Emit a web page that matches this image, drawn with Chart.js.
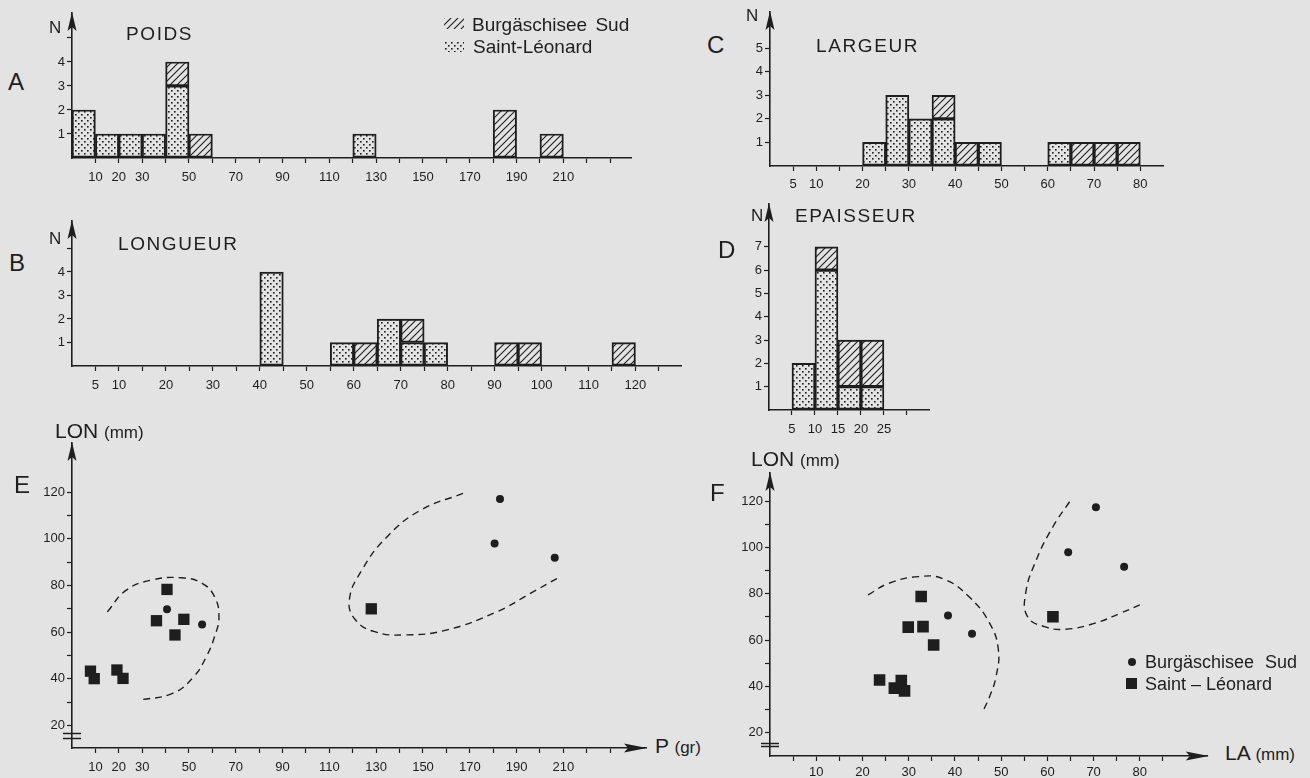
<!DOCTYPE html>
<html><head><meta charset="utf-8">
<title>Poids, longueur, largeur, épaisseur – Burgäschisee Sud / Saint-Léonard</title>
<script src="https://cdn.jsdelivr.net/npm/chart.js@4.4.1/dist/chart.umd.min.js"></script>
<style>
html,body{margin:0;padding:0}
body{width:1310px;height:778px;background:#e3e3e3;position:relative;overflow:hidden;font-family:"Liberation Sans",Arial,sans-serif;color:#1e1e1e}
canvas{position:absolute}
.t{position:absolute;white-space:nowrap;line-height:1;transform:translateY(-50%)}
.letter{font-size:24px}
.n{font-size:17px}
.title{font-size:19px;letter-spacing:1.6px}
.leg{font-size:19px;word-spacing:3px}
.ax{font-size:21px}
.ax span{font-size:17px}
.sw{position:absolute;width:20px;height:11px}
.dot{position:absolute;width:8px;height:8px;border-radius:50%;background:#1e1e1e}
.sq{position:absolute;width:11px;height:11px;background:#1e1e1e}
</style></head><body>
<canvas id="cA"></canvas><canvas id="cB"></canvas><canvas id="cC"></canvas>
<canvas id="cD"></canvas><canvas id="cE"></canvas><canvas id="cF"></canvas>

<div class="t letter" style="left:8px;top:82px">A</div>
<div class="t letter" style="left:9px;top:263px">B</div>
<div class="t letter" style="left:707px;top:45px">C</div>
<div class="t letter" style="left:718px;top:250px">D</div>
<div class="t letter" style="left:14px;top:485px">E</div>
<div class="t letter" style="left:710px;top:493px">F</div>

<div class="t n" style="left:49px;top:27px">N</div>
<div class="t n" style="left:49px;top:238px">N</div>
<div class="t n" style="left:746px;top:15px">N</div>
<div class="t n" style="left:751px;top:215px">N</div>

<div class="t title" style="left:126px;top:33px">POIDS</div>
<div class="t title" style="left:118px;top:243px">LONGUEUR</div>
<div class="t title" style="left:816px;top:45px">LARGEUR</div>
<div class="t title" style="left:795px;top:215px">EPAISSEUR</div>

<div id="swH" class="sw" style="left:444px;top:18px"></div>
<div class="t leg" style="left:472px;top:24px">Burgäschisee Sud</div>
<div id="swS" class="sw" style="left:444px;top:41px"></div>
<div class="t leg" style="left:473px;top:46px">Saint-Léonard</div>

<div class="t ax" style="left:55px;top:430px">LON <span>(mm)</span></div>
<div class="t ax" style="left:751px;top:458px">LON <span>(mm)</span></div>
<div class="t ax" style="left:655px;top:745px">P <span>(gr)</span></div>
<div class="t ax" style="left:1225px;top:752px">LA <span>(mm)</span></div>

<div class="dot" style="left:1128px;top:658px"></div>
<div class="t leg" style="left:1145px;top:662px;font-size:18px;word-spacing:6px">Burgäschisee Sud</div>
<div class="sq" style="left:1126px;top:678px"></div>
<div class="t leg" style="left:1145px;top:684px;font-size:18px;word-spacing:0">Saint – Léonard</div>

<script>
// ---------------- DATA ----------------
// A : POIDS (gr), classes de 10
const poidsBinStart = [0, 10, 20, 30, 40, 50, 120, 180, 200];
const poidsSaintLeonard = [2, 1, 1, 1, 3, 0, 1, 0, 0];
const poidsBurgaschisee = [0, 0, 0, 0, 1, 1, 0, 2, 1];
const poidsTickLabels = [10, 20, 30, 50, 70, 90, 110, 130, 150, 170, 190, 210];

// B : LONGUEUR (mm), classes de 5
const longueurBinStart = [40, 55, 60, 65, 70, 75, 90, 95, 115];
const longueurSaintLeonard = [4, 1, 0, 2, 1, 1, 0, 0, 0];
const longueurBurgaschisee = [0, 0, 1, 0, 1, 0, 1, 1, 1];
const longueurTickLabels = [5, 10, 20, 30, 40, 50, 60, 70, 80, 90, 100, 110, 120];

// C : LARGEUR (mm), classes de 5
const largeurBinStart = [20, 25, 30, 35, 40, 45, 60, 65, 70, 75];
const largeurSaintLeonard = [1, 3, 2, 2, 0, 1, 1, 0, 0, 0];
const largeurBurgaschisee = [0, 0, 0, 1, 1, 0, 0, 1, 1, 1];
const largeurTickLabels = [5, 10, 20, 30, 40, 50, 60, 70, 80];

// D : EPAISSEUR (mm), classes de 5
const epaisseurBinStart = [5, 10, 15, 20];
const epaisseurSaintLeonard = [2, 6, 1, 1];
const epaisseurBurgaschisee = [0, 1, 2, 2];
const epaisseurTickLabels = [5, 10, 15, 20, 25];

// E : LON (mm) en fonction de P (gr)
const ePoidsSaintLeonard = [7.9, 9.5, 19.2, 21.8, 40.6, 36.1, 47.8, 44.0, 127.9];
const eLonSaintLeonard   = [43.3, 40.1, 43.8, 40.2, 78.3, 64.9, 65.5, 58.8, 70.0];
const ePoidsBurgaschisee = [40.6, 55.6, 182.9, 180.6, 206.3];
const eLonBurgaschisee   = [69.8, 63.3, 117.0, 98.0, 91.9];
const eEnvelope1P = [15.1, 23.2, 34.0, 46.6, 55.6, 60.9, 62.8, 60.9, 57.4, 52.0, 43.0, 28.6];
const eEnvelope1L = [68.7, 78.0, 82.3, 83.3, 80.9, 75.2, 66.6, 58.0, 49.5, 40.9, 33.8, 30.9];
const eEnvelope2P = [167.1, 149.1, 134.7, 123.9, 118.5, 121.2, 129.3, 141.9, 159.9, 181.5, 195.9, 208.5];
const eEnvelope2L = [119.4, 112.3, 100.9, 86.6, 73.7, 65.2, 60.2, 58.8, 60.9, 68.7, 76.6, 83.7];
const ePoidsTickLabels = [10, 20, 30, 50, 70, 90, 110, 130, 150, 170, 190, 210];
const lonTickLabels = [20, 40, 60, 80, 100, 120];
const eAxisBreak = [16.8, 14.6];

// F : LON (mm) en fonction de LA (mm)
const fLaSaintLeonard  = [23.7, 26.9, 28.4, 29.1, 29.9, 33.1, 32.7, 35.4, 61.2];
const fLonSaintLeonard = [42.8, 39.3, 42.5, 38.1, 65.6, 65.8, 78.8, 57.9, 70.1];
const fLaBurgaschisee  = [38.5, 43.7, 70.5, 64.5, 76.6];
const fLonBurgaschisee = [70.6, 62.7, 117.3, 97.9, 91.7];
const fEnvelope1A = [21.2, 25.7, 32.1, 37.5, 43.0, 47.5, 49.4, 48.9, 47.5, 46.2];
const fEnvelope1L = [79.5, 84.5, 87.4, 86.4, 78.8, 67.3, 55.8, 44.3, 35.6, 29.9];
const fEnvelope2A = [64.8, 61.2, 57.6, 55.3, 55.7, 59.4, 63.9, 70.3, 75.8, 80.8];
const fEnvelope2L = [119.7, 108.9, 94.6, 80.2, 70.1, 65.8, 64.7, 67.3, 71.6, 75.9];
const fLaTickLabels = [10, 20, 30, 40, 50, 60, 70, 80];
const fAxisBreak = [15.8, 14.1];

// ---------------- STYLE ----------------
const INK = '#1e1e1e';
const FONT = '"Liberation Sans", Arial, sans-serif';
const tickFont = {family: FONT, size: 13};

function makeHatch() {
  const c = document.createElement('canvas'); c.width = 7; c.height = 7;
  const g = c.getContext('2d'); g.strokeStyle = INK; g.lineWidth = 1.1;
  g.beginPath();
  g.moveTo(-1, 8); g.lineTo(8, -1);
  g.moveTo(-1, 1); g.lineTo(1, -1);
  g.moveTo(6, 8); g.lineTo(8, 6);
  g.stroke();
  return c;
}
function makeStipple() {
  const c = document.createElement('canvas'); c.width = 6; c.height = 6;
  const g = c.getContext('2d'); g.fillStyle = INK;
  g.fillRect(1, 1, 1.6, 1.6); g.fillRect(4, 4, 1.6, 1.6);
  return c;
}
const hatchTile = makeHatch(), stippleTile = makeStipple();
const pctx = document.createElement('canvas').getContext('2d');
const HATCH = pctx.createPattern(hatchTile, 'repeat');
const STIPPLE = pctx.createPattern(stippleTile, 'repeat');
document.getElementById('swH').style.backgroundImage = 'url(' + hatchTile.toDataURL() + ')';
document.getElementById('swS').style.backgroundImage = 'url(' + stippleTile.toDataURL() + ')';

// arrows at the axis ends and the "=" break on the y axis
const axisDecor = {
  id: 'axisDecor',
  afterDraw(chart, _a, o) {
    const {ctx, chartArea: a} = chart;
    ctx.save(); ctx.fillStyle = INK; ctx.strokeStyle = INK;
    const al = 18, aw = 4.5;
    ctx.beginPath();
    ctx.moveTo(a.left, a.top - 1);
    ctx.lineTo(a.left - aw, a.top + al);
    ctx.lineTo(a.left, a.top + al - 4);
    ctx.lineTo(a.left + aw, a.top + al);
    ctx.closePath(); ctx.fill();
    if (o.xArrow) {
      const xl = 22, xw = 4.5;
      ctx.beginPath();
      ctx.moveTo(a.right + 1, a.bottom);
      ctx.lineTo(a.right - xl, a.bottom - xw);
      ctx.lineTo(a.right - xl + 4, a.bottom);
      ctx.lineTo(a.right - xl, a.bottom + xw);
      ctx.closePath(); ctx.fill();
    }
    if (o.breaks) {
      ctx.lineWidth = 1.5;
      o.breaks.forEach(v => {
        const y = Math.round(chart.scales.y.getPixelForValue(v)) + 0.5;
        ctx.beginPath(); ctx.moveTo(a.left - 9, y); ctx.lineTo(a.left + 9, y); ctx.stroke();
      });
    }
    ctx.restore();
  }
};

function placeCanvas(id, area, yW, xH, pad) {
  const cv = document.getElementById(id);
  const left = area.L - yW - pad.left, top = area.T - pad.top;
  cv.width = area.R + pad.right - left;
  cv.height = area.B + xH + pad.bottom - top;
  cv.style.left = left + 'px'; cv.style.top = top + 'px';
  return cv;
}

function binPoints(start, counts, w) {
  const pts = [];
  start.forEach((s, i) => { if (counts[i] > 0) pts.push({x: s + w / 2, y: counts[i]}); });
  return pts;
}
function zip(xs, ys) { return xs.map((x, i) => ({x, y: ys[i]})); }

function histChart(id, area, cfg) {
  const yW = 40, xH = 30, pad = {left: 0, top: 14, right: 8, bottom: 4};
  const cv = placeCanvas(id, area, yW, xH, pad);
  const barStyle = {borderColor: INK, borderWidth: 1.3, borderSkipped: false,
                    barPercentage: 1, categoryPercentage: 1};
  return new Chart(cv, {
    type: 'bar',
    data: {datasets: [
      Object.assign({label: 'Saint-Léonard', data: binPoints(cfg.start, cfg.sl, cfg.w),
                     backgroundColor: STIPPLE}, barStyle),
      Object.assign({label: 'Burgäschisee Sud', data: binPoints(cfg.start, cfg.bs, cfg.w),
                     backgroundColor: HATCH}, barStyle)
    ]},
    options: {
      responsive: false, animation: false, events: [],
      layout: {padding: pad},
      plugins: {legend: {display: false}, tooltip: {enabled: false}, axisDecor: {}},
      scales: {
        x: {type: 'linear', min: 0, max: cfg.xMax, offset: false, stacked: true,
            grid: {drawOnChartArea: false, offset: false, tickLength: 5, tickWidth: 1.2,
                   tickColor: c => (c.tick && c.tick.value > 0) ? INK : 'transparent'},
            border: {color: INK, width: 1.6},
            ticks: {stepSize: cfg.w, autoSkip: false, maxRotation: 0, includeBounds: false,
                    maxTicksLimit: 1000, padding: cfg.xPad || 7, color: INK, font: tickFont,
                    callback: v => cfg.xLabels.includes(v) ? String(v) : ''},
            afterFit: s => { s.height = xH; }},
        y: {type: 'linear', min: 0, max: cfg.yMax, stacked: true,
            grid: {drawOnChartArea: false, tickLength: 5, tickWidth: 1.2,
                   tickColor: c => (c.tick && c.tick.value >= 1 && c.tick.value <= cfg.yTickTop) ? INK : 'transparent'},
            border: {color: INK, width: 1.6},
            ticks: {stepSize: 1, includeBounds: false, padding: 2, color: INK, font: tickFont,
                    callback: v => (v >= 1 && v <= cfg.yLabelTop) ? String(v) : ''},
            afterFit: s => { s.width = yW; }}
      }
    },
    plugins: [axisDecor]
  });
}

function scatterChart(id, area, cfg) {
  const yW = 44, xH = 30, pad = {left: 0, top: 14, right: 8, bottom: 4};
  const cv = placeCanvas(id, area, yW, xH, pad);
  const env = {showLine: true, pointRadius: 0, borderColor: INK, borderWidth: 1.4,
               borderDash: [7, 5], tension: 0.45, fill: false, backgroundColor: 'transparent'};
  return new Chart(cv, {
    type: 'scatter',
    data: {datasets: [
      {label: 'Saint-Léonard', data: zip(cfg.slX, cfg.slY), pointStyle: 'rect',
       pointRadius: cfg.sq, backgroundColor: INK, borderColor: INK, borderWidth: 0},
      {label: 'Burgäschisee Sud', data: zip(cfg.bsX, cfg.bsY), pointStyle: 'circle',
       pointRadius: 4, backgroundColor: INK, borderColor: INK, borderWidth: 0},
      Object.assign({label: 'enveloppe 1', data: zip(cfg.e1X, cfg.e1Y)}, env),
      Object.assign({label: 'enveloppe 2', data: zip(cfg.e2X, cfg.e2Y)}, env)
    ]},
    options: {
      responsive: false, animation: false, events: [],
      layout: {padding: pad},
      plugins: {legend: {display: false}, tooltip: {enabled: false},
                axisDecor: {xArrow: true, breaks: cfg.breaks}},
      scales: {
        x: {type: 'linear', min: 0, max: cfg.xMax,
            grid: {drawOnChartArea: false, tickLength: 5, tickWidth: 1.2,
                   tickColor: c => (c.tick && c.tick.value > 0 && c.tick.value <= cfg.xTickTop) ? INK : 'transparent'},
            border: {color: INK, width: 1.6},
            ticks: {stepSize: cfg.xStep, autoSkip: false, maxRotation: 0, includeBounds: false,
                    maxTicksLimit: 1000, padding: cfg.xPad, color: INK, font: tickFont,
                    callback: v => cfg.xLabels.includes(v) ? String(v) : ''},
            afterFit: s => { s.height = xH; }},
        y: {type: 'linear', min: cfg.yMin, max: cfg.yMax,
            grid: {drawOnChartArea: false, tickLength: 5, tickWidth: 1.2,
                   tickColor: c => (c.tick && c.tick.value >= 20 && c.tick.value <= 120) ? INK : 'transparent'},
            border: {color: INK, width: 1.6},
            ticks: {stepSize: 10, autoSkip: false, includeBounds: false, maxTicksLimit: 1000,
                    padding: 2, color: INK, font: tickFont,
                    callback: v => lonTickLabels.includes(v) ? String(v) : ''},
            afterFit: s => { s.width = yW; }}
      }
    },
    plugins: [axisDecor]
  });
}

// ---------------- CHARTS ----------------
histChart('cA', {L: 72, T: 13, R: 631, B: 158}, {
  start: poidsBinStart, sl: poidsSaintLeonard, bs: poidsBurgaschisee, w: 10,
  xMax: 238.9, yMax: 6.04, xLabels: poidsTickLabels, yLabelTop: 4, yTickTop: 5});
histChart('cB', {L: 72, T: 221, R: 681, B: 366}, {
  start: longueurBinStart, sl: longueurSaintLeonard, bs: longueurBurgaschisee, w: 5,
  xMax: 129.7, yMax: 6.17, xLabels: longueurTickLabels, yLabelTop: 4, yTickTop: 5});
histChart('cC', {L: 770, T: 12, R: 1163, B: 166}, {
  start: largeurBinStart, sl: largeurSaintLeonard, bs: largeurBurgaschisee, w: 5,
  xMax: 84.9, yMax: 6.53, xLabels: largeurTickLabels, yLabelTop: 5, yTickTop: 5, xPad: 6});
histChart('cD', {L: 769, T: 204, R: 929, B: 410}, {
  start: epaisseurBinStart, sl: epaisseurSaintLeonard, bs: epaisseurBurgaschisee, w: 5,
  xMax: 34.8, yMax: 8.84, xLabels: epaisseurTickLabels, yLabelTop: 7, yTickTop: 7});

scatterChart('cE', {L: 72, T: 443, R: 646, B: 748}, {
  slX: ePoidsSaintLeonard, slY: eLonSaintLeonard, bsX: ePoidsBurgaschisee, bsY: eLonBurgaschisee,
  e1X: eEnvelope1P, e1Y: eEnvelope1L, e2X: eEnvelope2P, e2Y: eEnvelope2L,
  xMax: 245.3, xStep: 10, xTickTop: 230, xLabels: ePoidsTickLabels, xPad: 7,
  yMin: 10.4, yMax: 141, breaks: eAxisBreak, sq: 8});
scatterChart('cF', {L: 770, T: 473, R: 1208, B: 756}, {
  slX: fLaSaintLeonard, slY: fLonSaintLeonard, bsX: fLaBurgaschisee, bsY: fLonBurgaschisee,
  e1X: fEnvelope1A, e1Y: fEnvelope1L, e2X: fEnvelope2A, e2Y: fEnvelope2L,
  xMax: 94.7, xStep: 5, xTickTop: 85, xLabels: fLaTickLabels, xPad: 4,
  yMin: 10.0, yMax: 132.1, breaks: fAxisBreak, sq: 8.2});
</script>
</body></html>
